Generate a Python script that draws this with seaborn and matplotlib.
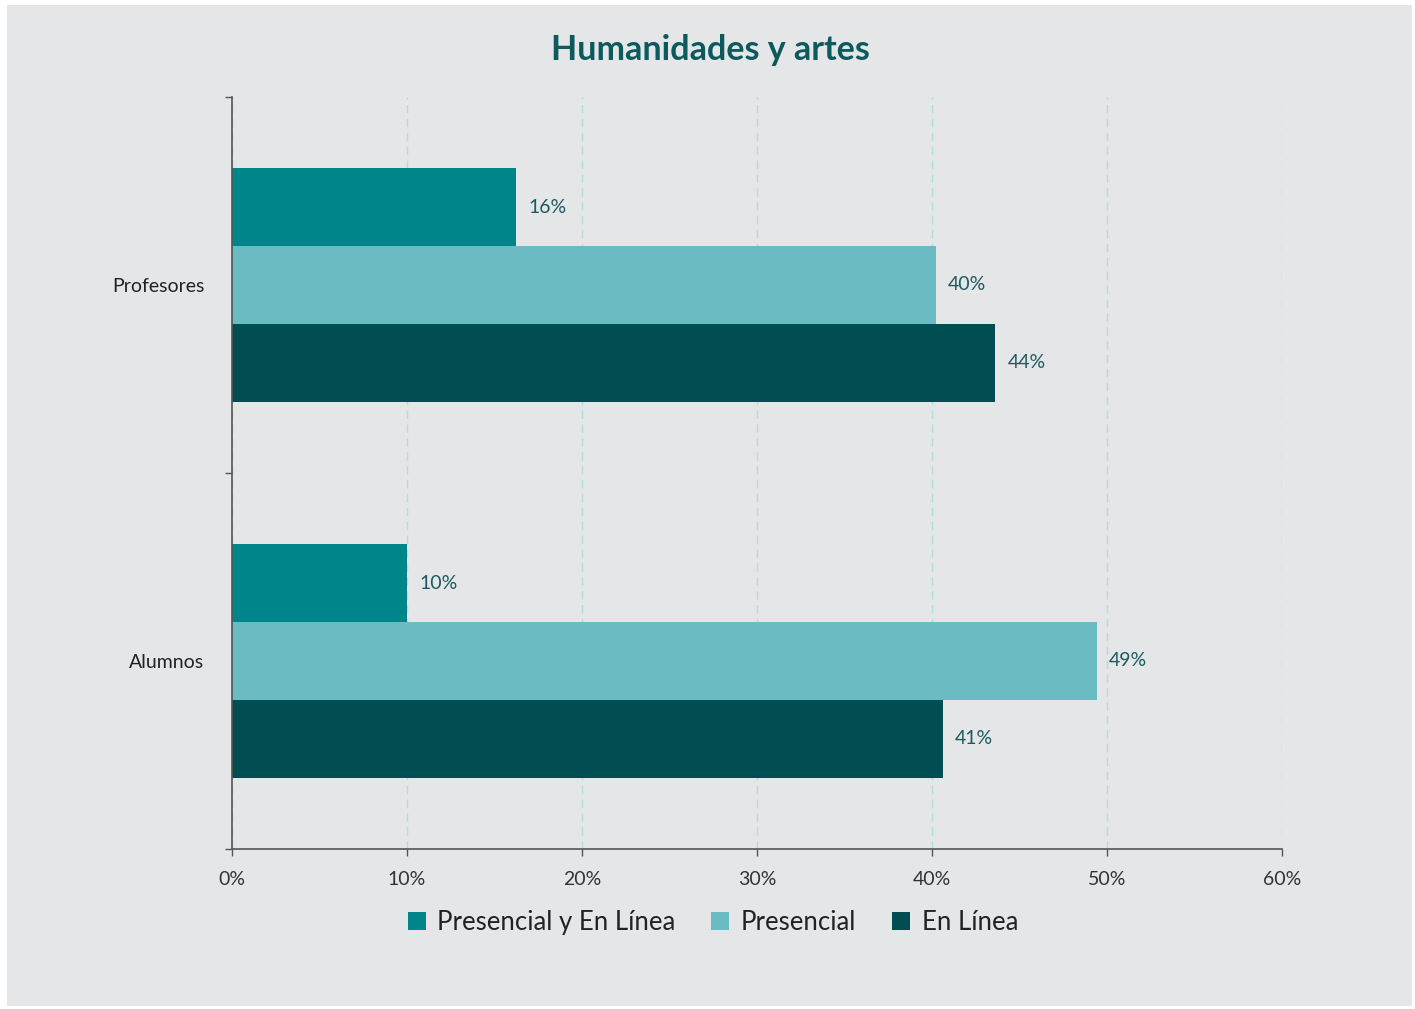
import pandas as pd
import matplotlib.pyplot as plt
import seaborn as sns
from matplotlib.patches import Rectangle

# datos
grupos = ["Profesores", "Profesores", "Profesores", "Alumnos", "Alumnos", "Alumnos"]
modalidades = ["Presencial y En Línea", "Presencial", "En Línea"] * 2
valores = [16.2, 40.2, 43.6, 10.0, 49.4, 40.6]

orden_grupos = ["Profesores", "Alumnos"]
orden_mod = ["Presencial y En Línea", "Presencial", "En Línea"]
colores = ["#00868A", "#6ABCC2", "#004E52"]
xticks = [0, 10, 20, 30, 40, 50, 60]

df = pd.DataFrame({"grupo": grupos, "modalidad": modalidades, "valor": valores})

sns.set_style("white")
plt.rcParams["font.family"] = ["Lato", "DejaVu Sans"]

fig = plt.figure(figsize=(14.15, 10.09), dpi=100, facecolor="white")
fondo = "#E5E6E8"
fig.patches.append(Rectangle((7 / 1415, 3 / 1009), 1405 / 1415, 1001 / 1009,
                             transform=fig.transFigure, facecolor=fondo,
                             edgecolor="none", zorder=-10))

ax = fig.add_axes([232 / 1415, 1 - 849 / 1009, 1050 / 1415, 752 / 1009])
ax.set_facecolor(fondo)

sns.barplot(data=df, x="valor", y="grupo", hue="modalidad",
            order=orden_grupos, hue_order=orden_mod, palette=colores,
            saturation=1, width=0.62, gap=0, linewidth=0, ax=ax, legend=True)

for cont in ax.containers:
    ax.bar_label(cont, labels=[f"{round(v):d}%" for v in cont.datavalues],
                 padding=9, color="#1C5A60", fontsize=14)

ax.set_xlim(0, 60)
ax.set_ylim(1.5, -0.5)
ax.set_xticks(xticks)
ax.set_xticklabels([f"{t}%" for t in xticks], fontsize=14, color="#333333")
ax.tick_params(axis="x", bottom=True, direction="out", length=5, width=1,
               color="#555555", pad=11)

ax.set_yticks([0, 1])
ax.set_yticklabels(orden_grupos, fontsize=14, color="#222222")
ax.set_yticks([-0.5, 0.5, 1.5], minor=True)
ax.tick_params(axis="y", which="major", left=False, length=0, pad=20)
ax.tick_params(axis="y", which="minor", left=True, direction="out", length=5,
               width=1, color="#555555")

ax.set_xlabel("")
ax.set_ylabel("")

ax.grid(axis="x", linestyle=(0, (6, 4)), color="#B3DCDD", linewidth=1)
ax.set_axisbelow(True)
for s in ["top", "right"]:
    ax.spines[s].set_visible(False)
for s in ["left", "bottom"]:
    ax.spines[s].set_color("#555555")
    ax.spines[s].set_linewidth(1.2)

fig.text(710 / 1415, 1 - 50 / 1009, "Humanidades y artes", ha="center", va="center",
         fontsize=24.5, fontweight="bold", color="#0C5A5C")

ax.legend(loc="center", bbox_to_anchor=(0.458, -0.098), ncol=3, frameon=False,
          fontsize=18.5, handlelength=0.7, handleheight=0.7, handletextpad=0.45,
          columnspacing=1.4, labelcolor="#222222")

fig.savefig("out.png", dpi=100, facecolor="white")
